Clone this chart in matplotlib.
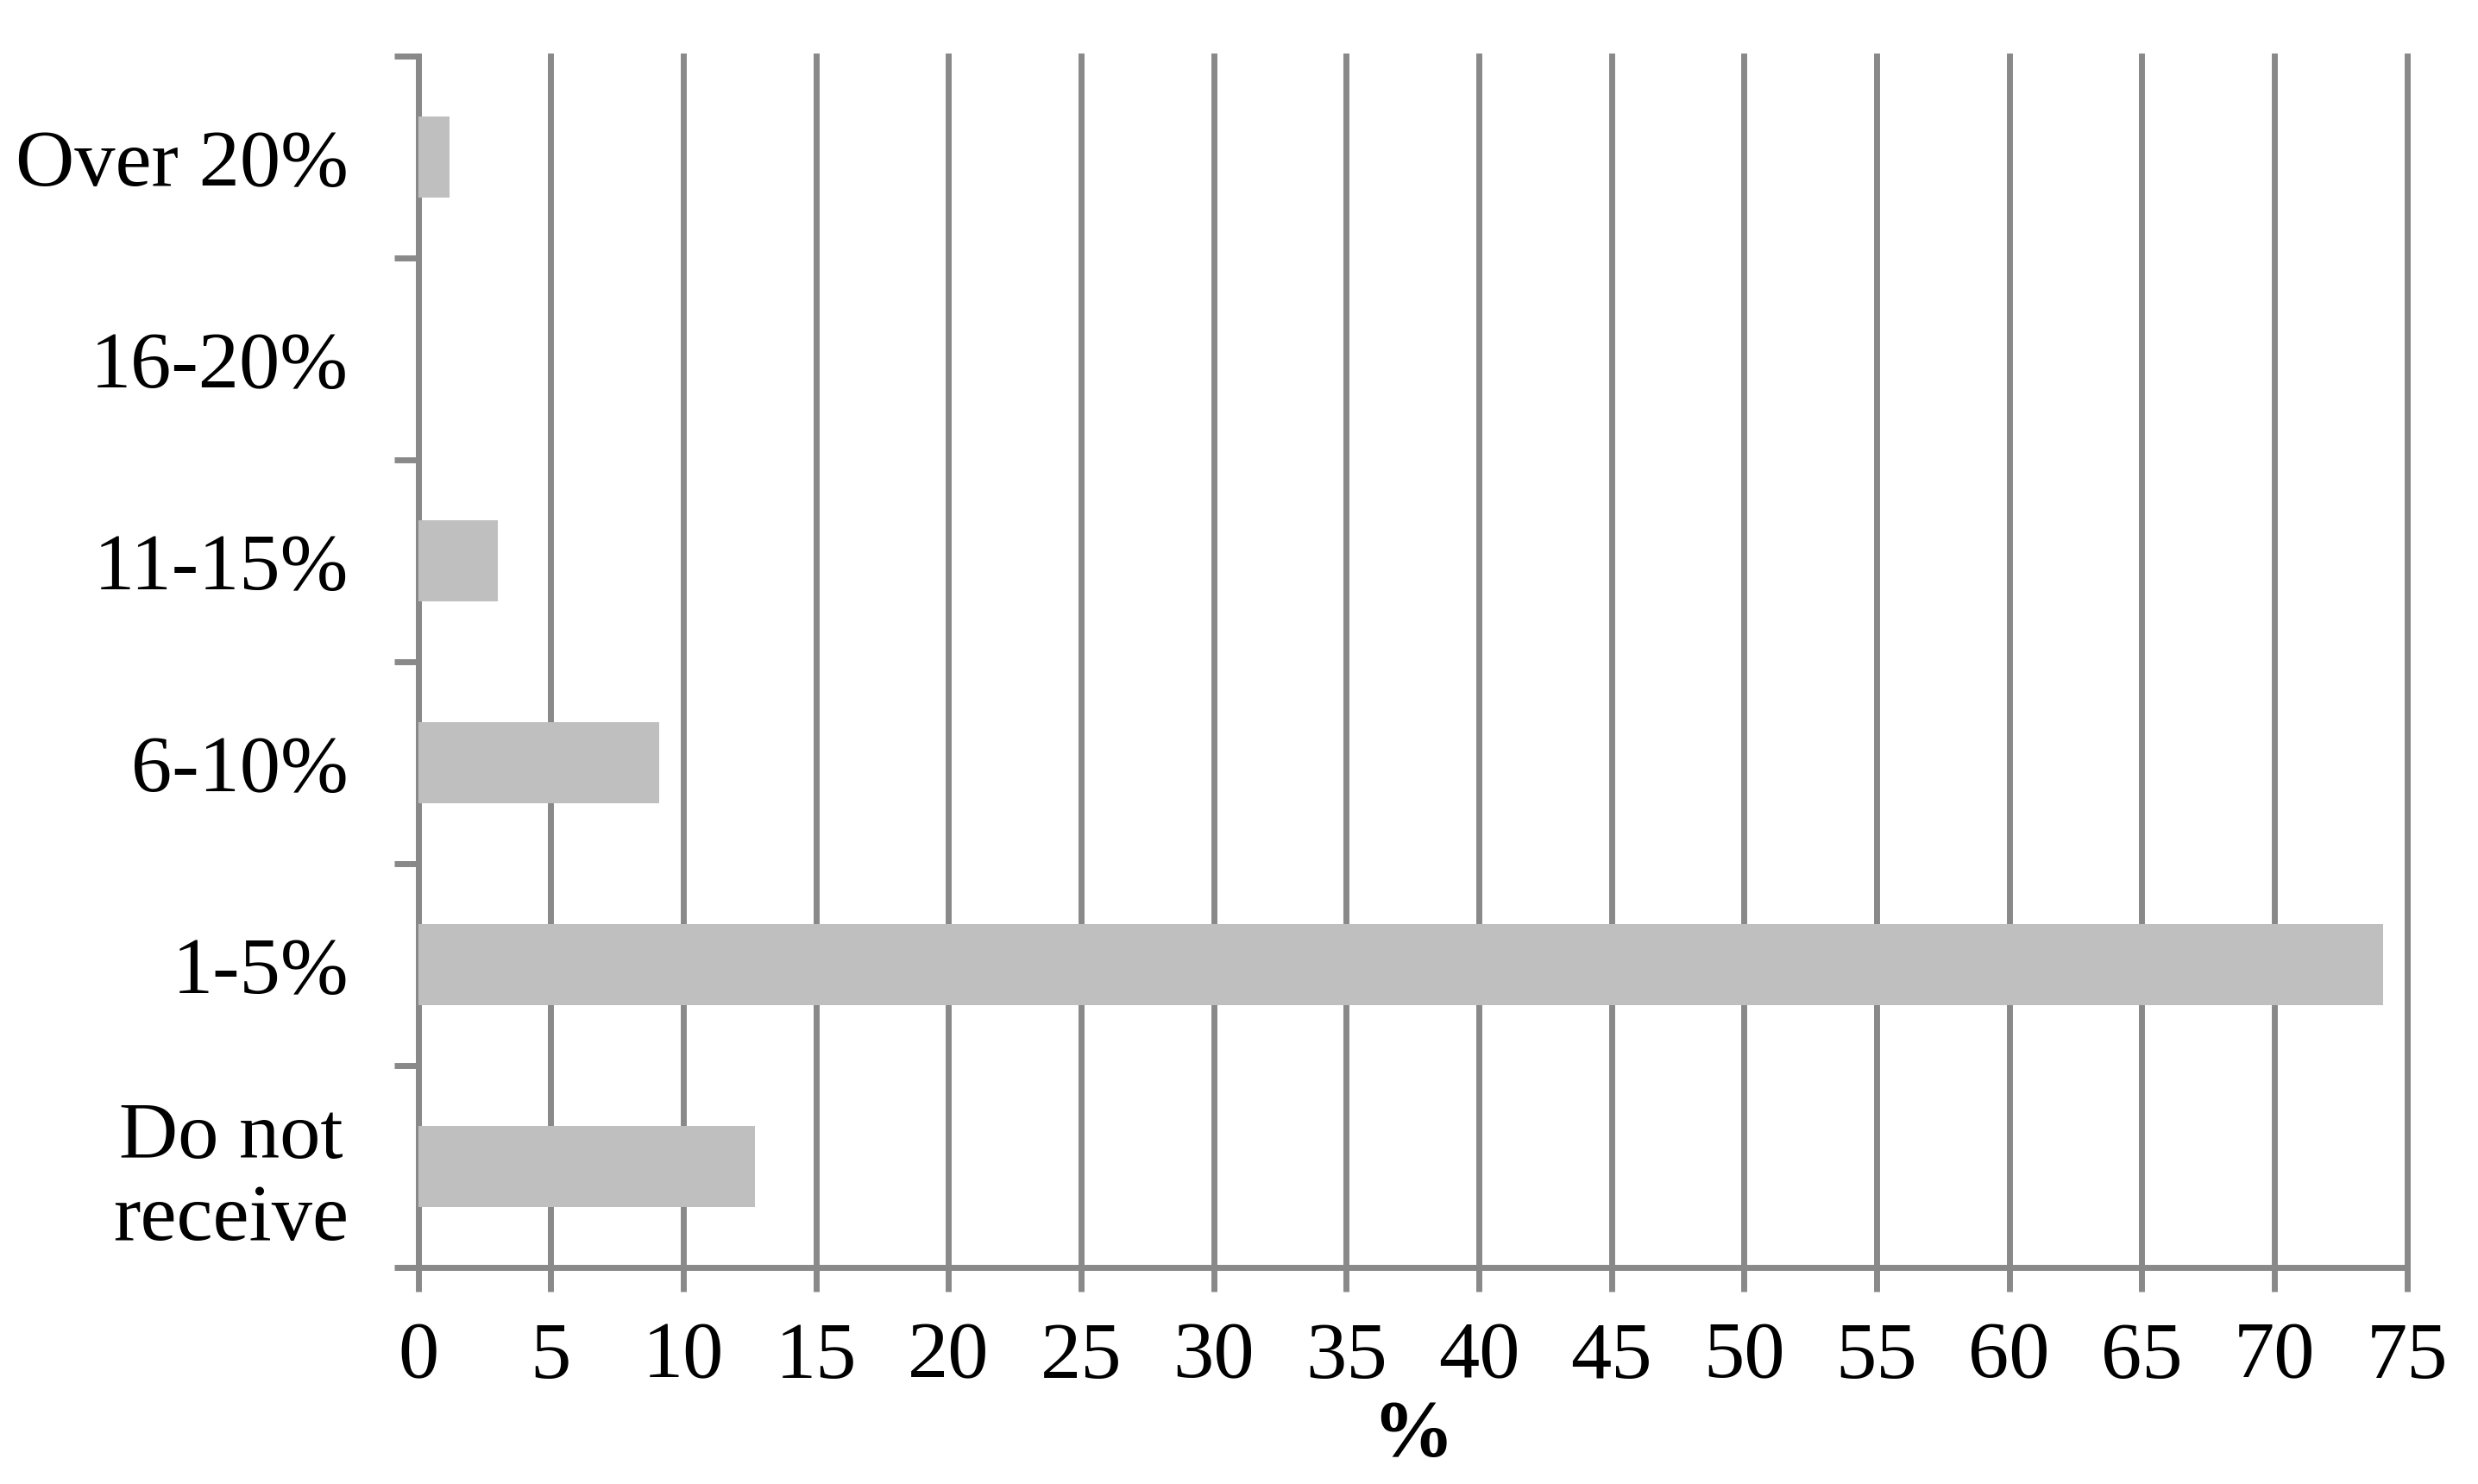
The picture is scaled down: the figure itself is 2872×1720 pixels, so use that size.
import numpy as np
import matplotlib
matplotlib.use('Agg')
import matplotlib.pyplot as plt
from matplotlib.ticker import FixedLocator

categories = ['Do not\nreceive', '1-5%', '6-10%', '11-15%', '16-20%', 'Over 20%']
values = [12.7, 74.1, 9.1, 3.0, 0.0, 1.2]
x_ticks = list(range(0, 80, 5))

plt.rcParams['font.family'] = ['Liberation Serif', 'DejaVu Serif']
line_col = '#898989'
bar_col = '#bfbfbf'
fs = 68

fig = plt.figure(figsize=(28.72, 17.2), dpi=100)
ax = fig.add_axes([0.1687, 0.1459, 0.9713 - 0.1687, 0.9622 - 0.1459])

ypos = np.arange(len(categories))
ax.barh(ypos, values, height=0.4, color=bar_col, zorder=3)

ax.set_xlim(0, 75)
ax.set_ylim(-0.5, len(categories) - 0.5)
ax.set_xticks(x_ticks)
ax.xaxis.grid(True, color=line_col, linewidth=5.0, zorder=1)
for gl in ax.get_xgridlines():
    gl.set_clip_on(False)
ax.set_axisbelow(True)

# category labels on major ticks, boundary ticks as minor
ax.set_yticks(ypos)
ax.set_yticklabels(categories)
ax.yaxis.set_minor_locator(FixedLocator(np.arange(-0.5, len(categories), 1.0)))
ax.tick_params(axis='y', which='major', length=0, pad=58, labelsize=fs)
ax.tick_params(axis='y', which='minor', direction='out', length=20, width=5.0, color=line_col)
ax.tick_params(axis='x', direction='out', length=20, width=5.0, color=line_col, pad=25, labelsize=fs)
for lab in ax.get_yticklabels():
    lab.set_multialignment('center')
    lab.set_linespacing(1.15)

for s in ['top', 'right']:
    ax.spines[s].set_visible(False)
for s in ['left', 'bottom']:
    ax.spines[s].set_color(line_col)
    ax.spines[s].set_linewidth(5.0)

ax.set_xlabel('%', fontsize=fs, fontweight='bold', labelpad=4)

fig.savefig('out.png', dpi=100)
